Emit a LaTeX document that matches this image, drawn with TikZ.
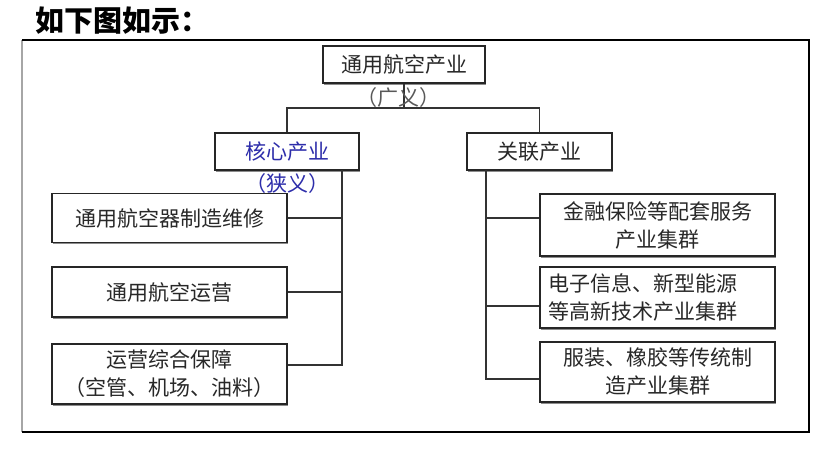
\documentclass[tikz,border=0pt]{standalone}
\usepackage{fontspec}
\setmainfont{Noto Sans CJK SC}
\usetikzlibrary{shadows}

\definecolor{coreblue}{RGB}{45,45,170}
\definecolor{boxtext}{RGB}{40,40,40}
\tikzset{
  box/.style={draw=black!85, line width=1.6pt, fill=white, inner sep=0pt,
    align=center, text=boxtext, font=\fontsize{21}{28}\selectfont,
    drop shadow={shadow xshift=1.2pt, shadow yshift=-1.8pt, fill=black!45, opacity=1}},
  note/.style={inner sep=0pt, font=\fontsize{21}{28}\selectfont},
  link/.style={draw=black!80, line width=1.6pt},
}

\begin{document}
\begin{tikzpicture}[x=1pt, y=-1pt]
  \useasboundingbox (0,0) rectangle (826,454);
  \node (title) at (35,21) [anchor=west, inner sep=0pt, font=\fontsize{29}{32}\selectfont\bfseries] {如下图如示：};

  \draw [black!35, line width=1.2pt] (22,40) -- (22,432);
  \draw [black, line width=1.2pt] (22,40) -- (809,40) -- (809,432) -- (22,432);

  \node (top) at (404,64.5) [box, minimum width=162pt, minimum height=37pt] {通用航空产业};
  \node (core) at (287,151.5) [box, minimum width=144pt, minimum height=37pt, text=coreblue] {核心产业};
  \node (rel) at (539.5,151.5) [box, minimum width=145pt, minimum height=37pt] {关联产业};

  \begin{scope}
    \node (make) at (169.5,218) [box, minimum width=235pt, minimum height=49pt] {通用航空器制造维修};
    \node (oper) at (169.5,292) [box, minimum width=235pt, minimum height=50pt] {通用航空运营};
    \node (supp) at (169.5,374) [box, minimum width=235pt, minimum height=60pt] {运营综合保障\\（空管、机场、油料）};
  \end{scope}

  \begin{scope}
    \node (fin) at (657.5,225) [box, minimum width=235pt, minimum height=62pt] {金融保险等配套服务\\产业集群};
    \node (tech) at (657.5,297.5) [box, minimum width=235pt, minimum height=61pt, text width=219pt, align=left] {电子信息、新型能源\\等高新技术产业集群};
    \node (trad) at (657.5,372) [box, minimum width=235pt, minimum height=60pt] {服装、橡胶等传统制\\造产业集群};
  \end{scope}

  \coordinate (hub) at (404,108);
  \draw [link] (top.south) -- (hub);
  \draw [link] (core.north) |- (hub) -| (rel.north);

  \coordinate (ltop) at (342,170);
  \coordinate (lbot) at (342,365);
  \draw [link] (ltop) -- (lbot) -- (lbot -| supp.east);
  \draw [link] (make.east) -- (make.east -| ltop);
  \draw [link] (oper.east) -- (oper.east -| ltop);

  \coordinate (rtop) at (486,170);
  \coordinate (rfin) at (486,218);
  \coordinate (rtech) at (486,306);
  \coordinate (rbot) at (486,379);
  \draw [link] (rtop) -- (rbot) -- (rbot -| trad.west);
  \draw [link] (rfin) -- (rfin -| fin.west);
  \draw [link] (rtech) -- (rtech -| tech.west);

  \node (wide) at (398,98) [note, text=black!65] {（广义）};
  \node (narrow) at (287,184) [note, text=coreblue] {（狭义）};
\end{tikzpicture}
\end{document}
